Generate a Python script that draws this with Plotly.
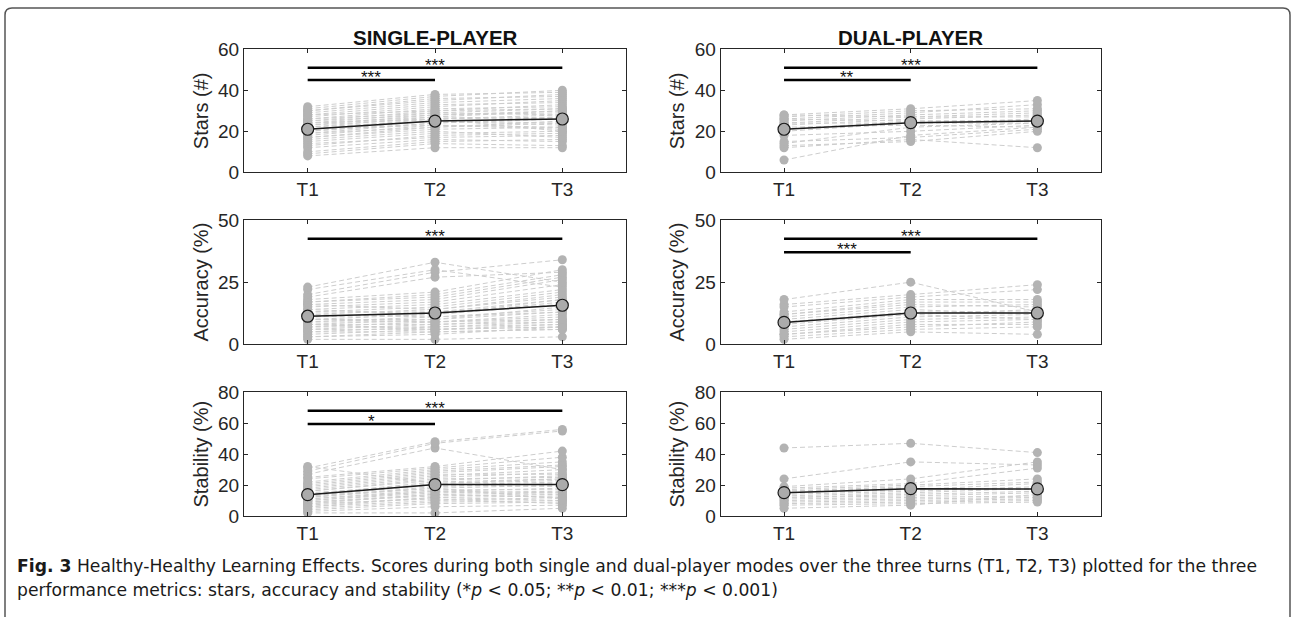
import plotly.graph_objects as go

# ---------------- data ----------------
time_labels = ["T1", "T2", "T3"]
time_pos = [1, 2, 3]

# Single-player, stars (#)
single_stars_t1 = [8, 9, 10, 12, 13, 14, 15, 16, 17, 17, 18, 19, 19, 20, 20, 21, 21, 22, 22, 23, 23, 24, 24, 25, 25, 26, 26, 27, 28, 28, 29, 30, 30, 31, 32, 24]
single_stars_t2 = [12, 14, 15, 16, 18, 17, 19, 20, 22, 21, 23, 24, 22, 25, 24, 26, 23, 27, 25, 28, 26, 29, 27, 30, 28, 31, 29, 32, 33, 30, 34, 35, 36, 37, 38, 26]
single_stars_t3 = [12, 13, 16, 15, 19, 18, 20, 17, 24, 22, 21, 26, 25, 23, 27, 28, 22, 30, 24, 29, 27, 31, 26, 33, 30, 32, 28, 35, 34, 31, 36, 38, 37, 40, 39, 20]
single_stars_mean = [21.0, 25.0, 26.0]

# Dual-player, stars (#)
dual_stars_t1 = [6, 12, 13, 14, 15, 18, 20, 21, 22, 23, 24, 24, 25, 26, 26, 27, 28, 28]
dual_stars_t2 = [18, 16, 15, 22, 17, 20, 24, 25, 23, 26, 27, 24, 28, 29, 25, 30, 31, 27]
dual_stars_t3 = [22, 12, 20, 24, 21, 23, 26, 25, 22, 28, 27, 24, 30, 33, 25, 31, 35, 29]
dual_stars_mean = [21.0, 24.2, 25.0]

# Single-player, accuracy (%)
single_acc_t1 = [2, 3, 3, 4, 5, 5, 6, 6, 7, 7, 8, 8, 9, 9, 10, 10, 11, 11, 12, 12, 13, 13, 14, 14, 15, 16, 16, 17, 17, 18, 19, 20, 22, 23, 8, 10]
single_acc_t2 = [2, 5, 4, 6, 7, 5, 8, 6, 9, 7, 10, 8, 11, 9, 12, 10, 13, 12, 14, 11, 15, 13, 16, 12, 17, 18, 14, 19, 20, 21, 27, 29, 30, 33, 6, 9]
single_acc_t3 = [3, 6, 7, 7, 8, 6, 9, 8, 11, 9, 13, 10, 14, 12, 16, 15, 18, 17, 19, 13, 21, 16, 22, 18, 24, 26, 20, 27, 28, 30, 29, 34, 23, 25, 7, 10]
single_acc_mean = [11.3, 12.6, 15.7]

# Dual-player, accuracy (%)
dual_acc_t1 = [2, 3, 4, 4, 5, 6, 7, 8, 9, 9, 10, 11, 12, 12, 13, 15, 16, 18]
dual_acc_t2 = [5, 6, 8, 7, 9, 10, 11, 12, 13, 12, 14, 15, 16, 17, 18, 19, 20, 25]
dual_acc_t3 = [4, 7, 8, 9, 10, 11, 12, 10, 13, 14, 12, 16, 15, 17, 18, 22, 24, 13]
dual_acc_mean = [8.8, 12.6, 12.6]

# Single-player, stability (%)
single_stab_t1 = [2, 3, 4, 5, 6, 7, 8, 8, 9, 10, 10, 11, 12, 12, 13, 14, 14, 15, 16, 16, 17, 18, 19, 20, 21, 22, 24, 25, 27, 29, 31, 32, 6, 9, 11, 13]
single_stab_t2 = [2, 6, 8, 9, 10, 12, 11, 14, 13, 15, 16, 17, 18, 19, 20, 21, 22, 20, 23, 24, 25, 26, 27, 28, 29, 30, 31, 32, 44, 47, 48, 21, 12, 14, 16, 18]
single_stab_t3 = [5, 7, 9, 10, 12, 13, 8, 15, 14, 16, 18, 17, 20, 21, 19, 23, 24, 22, 26, 25, 28, 30, 27, 32, 33, 35, 38, 42, 30, 55, 56, 24, 10, 12, 15, 11]
single_stab_mean = [13.8, 20.3, 20.3]

# Dual-player, stability (%)
dual_stab_t1 = [44, 24, 19, 18, 17, 16, 15, 14, 13, 12, 12, 11, 10, 9, 8, 7, 5, 16]
dual_stab_t2 = [47, 35, 24, 21, 20, 19, 17, 16, 15, 14, 13, 12, 11, 10, 9, 8, 7, 18]
dual_stab_t3 = [41, 33, 35, 31, 24, 22, 21, 19, 18, 16, 15, 13, 12, 11, 10, 9, 14, 17]
dual_stab_mean = [15.1, 17.7, 17.5]

# significance brackets: (from, to, level, label)
sig_single_stars = [(1, 2, 45, "***"), (1, 3, 51, "***")]
sig_dual_stars = [(1, 2, 45, "**"), (1, 3, 51, "***")]
sig_single_acc = [(1, 3, 42.5, "***")]
sig_dual_acc = [(1, 2, 37, "***"), (1, 3, 42.5, "***")]
sig_single_stab = [(1, 2, 59.5, "*"), (1, 3, 68, "***")]
sig_dual_stab = []

column_titles = ["SINGLE-PLAYER", "DUAL-PLAYER"]
caption_bold = "Fig. 3"
caption_line1 = " Healthy-Healthy Learning Effects. Scores during both single and dual-player modes over the three turns (T1, T2, T3) plotted for the three"
caption_line2 = "performance metrics: stars, accuracy and stability (*<i>p</i> &lt; 0.05; **<i>p</i> &lt; 0.01; ***<i>p</i> &lt; 0.001)"

panels = [
    dict(vals=[single_stars_t1, single_stars_t2, single_stars_t3], mean=single_stars_mean, sig=sig_single_stars,
         yrange=[0, 60], yticks=[0, 20, 40, 60], ytitle="Stars (#)"),
    dict(vals=[dual_stars_t1, dual_stars_t2, dual_stars_t3], mean=dual_stars_mean, sig=sig_dual_stars,
         yrange=[0, 60], yticks=[0, 20, 40, 60], ytitle="Stars (#)"),
    dict(vals=[single_acc_t1, single_acc_t2, single_acc_t3], mean=single_acc_mean, sig=sig_single_acc,
         yrange=[0, 50], yticks=[0, 25, 50], ytitle="Accuracy (%)"),
    dict(vals=[dual_acc_t1, dual_acc_t2, dual_acc_t3], mean=dual_acc_mean, sig=sig_dual_acc,
         yrange=[0, 50], yticks=[0, 25, 50], ytitle="Accuracy (%)"),
    dict(vals=[single_stab_t1, single_stab_t2, single_stab_t3], mean=single_stab_mean, sig=sig_single_stab,
         yrange=[0, 80], yticks=[0, 20, 40, 60, 80], ytitle="Stability (%)"),
    dict(vals=[dual_stab_t1, dual_stab_t2, dual_stab_t3], mean=dual_stab_mean, sig=sig_dual_stab,
         yrange=[0, 80], yticks=[0, 20, 40, 60, 80], ytitle="Stability (%)"),
]

# ---------------- layout geometry ----------------
W, H = 1292, 617
col_px = [(244, 626), (720.7, 1100.7)]
row_px = [(49.3, 172.3), (220, 344.3), (392.3, 516)]

AX_FONT = "Liberation Sans, Arial, Helvetica, sans-serif"
AX_COLOR = "#262626"
DOT_COLOR = "#b3b3b3"
LINE_COLOR = "#cdcdcd"

fig = go.Figure()
layout = dict(
    template="none",
    width=W, height=H, margin=dict(l=0, r=0, t=0, b=0, pad=0), autosize=False,
    paper_bgcolor="white", plot_bgcolor="white", showlegend=False,
    font=dict(family=AX_FONT, color=AX_COLOR),
)
annotations = []
shapes = []

for i, p in enumerate(panels):
    r, c = divmod(i, 2)
    n = i + 1
    xa = "x" if n == 1 else f"x{n}"
    ya = "y" if n == 1 else f"y{n}"
    xkey = "xaxis" if n == 1 else f"xaxis{n}"
    ykey = "yaxis" if n == 1 else f"yaxis{n}"
    x0, x1 = col_px[c]
    y0, y1 = row_px[r]

    layout[xkey] = dict(
        domain=[x0 / W, x1 / W], anchor=ya, range=[0.5, 3.5], automargin=False,
        tickvals=time_pos, ticktext=time_labels, ticks="inside", ticklen=4,
        tickcolor=AX_COLOR, showline=True, linecolor=AX_COLOR, linewidth=1,
        mirror="ticks", showgrid=False, zeroline=False,
        tickfont=dict(family=AX_FONT, size=19, color=AX_COLOR),
    )
    layout[ykey] = dict(
        domain=[1 - y1 / H, 1 - y0 / H], anchor=xa, range=p["yrange"], automargin=False,
        tickvals=p["yticks"], ticks="inside", ticklen=4,
        tickcolor=AX_COLOR, showline=True, linecolor=AX_COLOR, linewidth=1,
        mirror="ticks", showgrid=False, zeroline=False,
        tickfont=dict(family=AX_FONT, size=19, color=AX_COLOR),
        title=dict(text=p["ytitle"], font=dict(family=AX_FONT, size=20, color=AX_COLOR), standoff=4),
    )

    # individual subject lines
    lx, ly = [], []
    nsub = len(p["vals"][0])
    for s in range(nsub):
        for t in range(3):
            lx.append(time_pos[t])
            ly.append(p["vals"][t][s])
        lx.append(None)
        ly.append(None)
    fig.add_trace(go.Scatter(x=lx, y=ly, mode="lines", xaxis=xa, yaxis=ya,
                             line=dict(color=LINE_COLOR, width=1, dash="5px,3px"),
                             hoverinfo="skip"))
    # individual points
    px, py = [], []
    for t in range(3):
        px += [time_pos[t]] * len(p["vals"][t])
        py += p["vals"][t]
    fig.add_trace(go.Scatter(x=px, y=py, mode="markers", xaxis=xa, yaxis=ya,
                             marker=dict(color=DOT_COLOR, size=9, line=dict(width=0))))
    # mean line
    fig.add_trace(go.Scatter(x=time_pos, y=p["mean"], mode="lines+markers", xaxis=xa, yaxis=ya,
                             line=dict(color="#1a1a1a", width=1.5),
                             marker=dict(color="#ababab", size=12, line=dict(color="#1a1a1a", width=1.2))))
    # significance brackets
    for (a, b, lvl, lab) in p["sig"]:
        fig.add_trace(go.Scatter(x=[a, b], y=[lvl, lvl], mode="lines", xaxis=xa, yaxis=ya,
                                 line=dict(color="black", width=2.5), hoverinfo="skip"))
        annotations.append(dict(x=(a + b) / 2, y=lvl, xref=xa, yref=ya, text=lab, showarrow=False,
                                yanchor="bottom", yshift=-9,
                                font=dict(family=AX_FONT, size=17, color="#111111")))

# column titles
for c, title in enumerate(column_titles):
    x0, x1 = col_px[c]
    annotations.append(dict(x=(x0 + x1) / 2 / W, y=1 - 37 / H, xref="paper", yref="paper",
                            text=f"<b>{title}</b>", showarrow=False, xanchor="center", yanchor="middle",
                            font=dict(family=AX_FONT, size=20.5, color="#111111")))

# caption
CAP_FONT = "DejaVu Sans, Noto Sans, sans-serif"
annotations.append(dict(x=15 / W, y=1 - 566 / H, xref="paper", yref="paper", xanchor="left", yanchor="middle",
                        text=f"<b>{caption_bold}</b>{caption_line1}", showarrow=False, align="left",
                        font=dict(family=CAP_FONT, size=17.2, color="#1a1a1a")))
annotations.append(dict(x=15 / W, y=1 - 590 / H, xref="paper", yref="paper", xanchor="left", yanchor="middle",
                        text=caption_line2, showarrow=False, align="left",
                        font=dict(family=CAP_FONT, size=17.2, color="#1a1a1a")))

# figure frame (rounded top corners)
fx0, fx1, fy0, fyb, rad = 5 / W, 1290 / W, 1 - 8 / H, -0.02, 7
rx, ry = rad / W, rad / H
path = (f"M {fx0},{fyb} L {fx0},{fy0 - ry} Q {fx0},{fy0} {fx0 + rx},{fy0} "
        f"L {fx1 - rx},{fy0} Q {fx1},{fy0} {fx1},{fy0 - ry} L {fx1},{fyb}")
shapes.append(dict(type="path", path=path, xref="paper", yref="paper",
                   line=dict(color="#555555", width=1.5)))

layout["annotations"] = annotations
layout["shapes"] = shapes
fig.update_layout(**layout)
fig.write_html("out.html")
